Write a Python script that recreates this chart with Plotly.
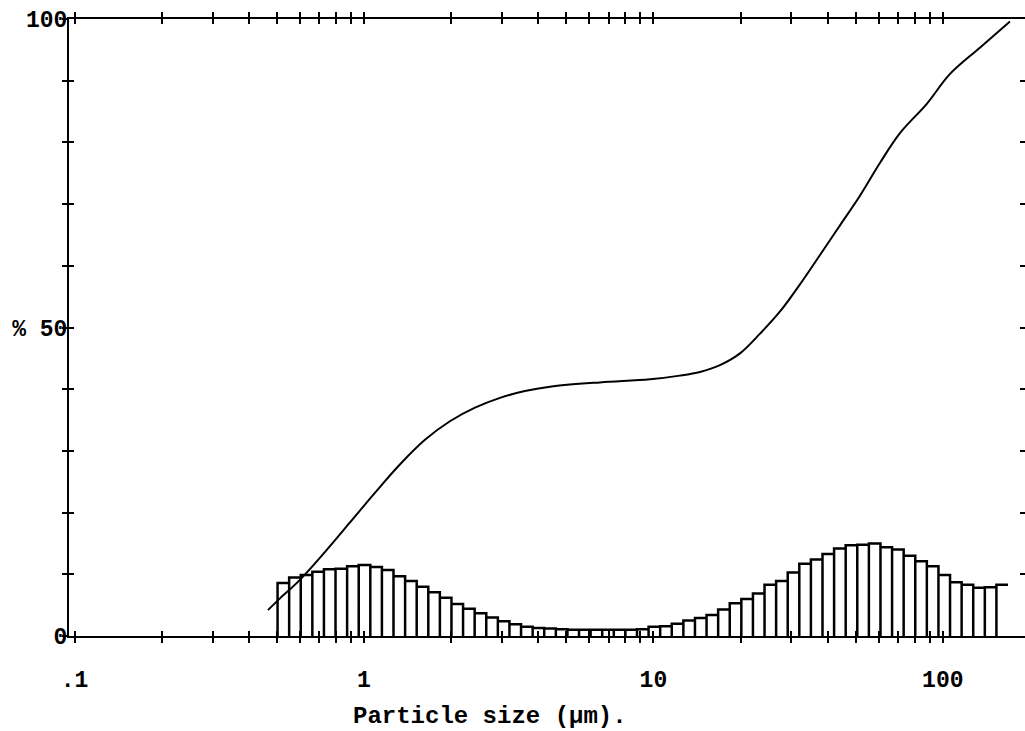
import numpy as np
import plotly.graph_objects as go

# ---------------- data ----------------
# Cumulative undersize curve (particle size in um, cumulative %)
cum_size_um = [0.466, 0.513, 0.601, 0.733, 0.895, 1.091, 1.331, 1.625, 1.982, 2.419,
               2.951, 3.600, 4.395, 6.536, 9.73, 12.35, 14.49, 16.99, 19.92, 23.36,
               27.39, 32.1, 37.7, 44.2, 51.8, 60.7, 71.1, 88.2, 105.9, 134.6, 170.6]
cum_percent = [4.2, 6.1, 9.1, 13.6, 18.4, 23.2, 27.8, 31.8, 34.8, 37.0,
               38.6, 39.7, 40.4, 41.1, 41.6, 42.2, 42.8, 43.9, 45.8, 49.0,
               52.6, 57.0, 61.8, 66.6, 71.4, 76.7, 81.5, 86.3, 91.1, 95.4, 99.6]

# Size-band histogram (log-spaced bands between these limits)
band_lower_um = 0.503
band_upper_um = 168.0
band_heights = [8.6, 9.5, 9.9, 10.4, 10.8, 10.9, 11.3, 11.5, 11.2, 10.7,
                9.7, 8.9, 8.0, 7.1, 6.2, 5.2, 4.4, 3.7, 3.0, 2.4,
                1.9, 1.5, 1.3, 1.2, 1.1, 1.0, 1.0, 1.0, 1.0, 1.0,
                1.0, 1.1, 1.5, 1.6, 2.0, 2.5, 2.9, 3.4, 4.3, 5.3,
                6.0, 6.9, 8.3, 8.9, 10.3, 11.7, 12.4, 13.3, 14.2, 14.7,
                14.8, 15.0, 14.4, 14.0, 13.0, 12.1, 11.3, 9.9, 8.7, 8.3,
                7.8, 7.9, 8.3]

x_major = [0.1, 1, 10, 100]
x_major_labels = [".1", "1", "10", "100"]
y_major = [0, 50, 100]
y_major_labels = ["0", "% 50", "100"]

# ---------------- build ----------------
edges = np.geomspace(band_lower_um, band_upper_um, len(band_heights) + 1)
hx, hy = [edges[0]], [0]
for i, h in enumerate(band_heights):
    hx += [edges[i], edges[i + 1]]
    hy += [h, h]
    if i < len(band_heights) - 1:
        hx.append(edges[i + 1])
        hy.append(0)

x_ticks = []
for d in [0.1, 1, 10, 100]:
    for m in range(1, 10):
        v = round(d * m, 6)
        if v <= 100:
            x_ticks.append(v)
x_text = [x_major_labels[x_major.index(v)] if v in x_major else "" for v in x_ticks]
y_ticks = list(range(0, 101, 10))
y_text = [y_major_labels[y_major.index(v)] if v in y_major else "" for v in y_ticks]

FONT = dict(family="Liberation Mono", size=23, color="black", weight="bold")

fig = go.Figure()
fig.add_trace(go.Scatter(x=hx, y=hy, mode="lines", xaxis="x", yaxis="y",
                         line=dict(color="black", width=2.5), hoverinfo="skip",
                         showlegend=False))
fig.add_trace(go.Scatter(x=cum_size_um, y=cum_percent, mode="lines", xaxis="x2", yaxis="y2",
                         line=dict(color="black", width=2, shape="spline", smoothing=1.0),
                         showlegend=False))

xr = [-1.019, 2.284]
common_x = dict(type="log", range=xr, showgrid=False, zeroline=False, automargin=False,
                tickvals=x_ticks, tickcolor="black", tickwidth=2, ticklen=5)
common_y = dict(range=[0, 100], showgrid=False, zeroline=False, automargin=False,
                tickvals=y_ticks, tickcolor="black", tickwidth=2, ticklen=5)

fig.update_layout(
    width=1025, height=731,
    margin=dict(l=69, r=0, t=19, b=95),
    paper_bgcolor="white", plot_bgcolor="white",
    font=FONT,
    xaxis=dict(**common_x, ticktext=x_text, ticks="outside", showline=True,
               linecolor="black", linewidth=2, mirror="ticks", ticklabelstandoff=16,
               tickfont=FONT, anchor="y"),
    xaxis2=dict(**common_x, ticktext=[""] * len(x_ticks), ticks="inside", showline=False,
                mirror="ticks", overlaying="x", anchor="y2", showticklabels=False),
    yaxis=dict(**common_y, ticktext=y_text, ticks="outside", showline=True,
               linecolor="black", linewidth=2, mirror=False, ticklabelstandoff=-10,
               tickfont=FONT, anchor="x"),
    yaxis2=dict(**common_y, ticktext=[""] * len(y_ticks), ticks="inside", showline=False,
                mirror="ticks", overlaying="y", anchor="x2", showticklabels=False),
    annotations=[dict(text="Particle size (µm).", xref="paper", yref="paper",
                      x=0.440, y=-0.130, xanchor="center", yanchor="middle",
                      showarrow=False, font=dict(FONT, size=24))],
)

fig.write_html("out.html", config={"displayModeBar": False},
               post_script="document.body.style.margin='0px';document.body.style.overflow='hidden';")
